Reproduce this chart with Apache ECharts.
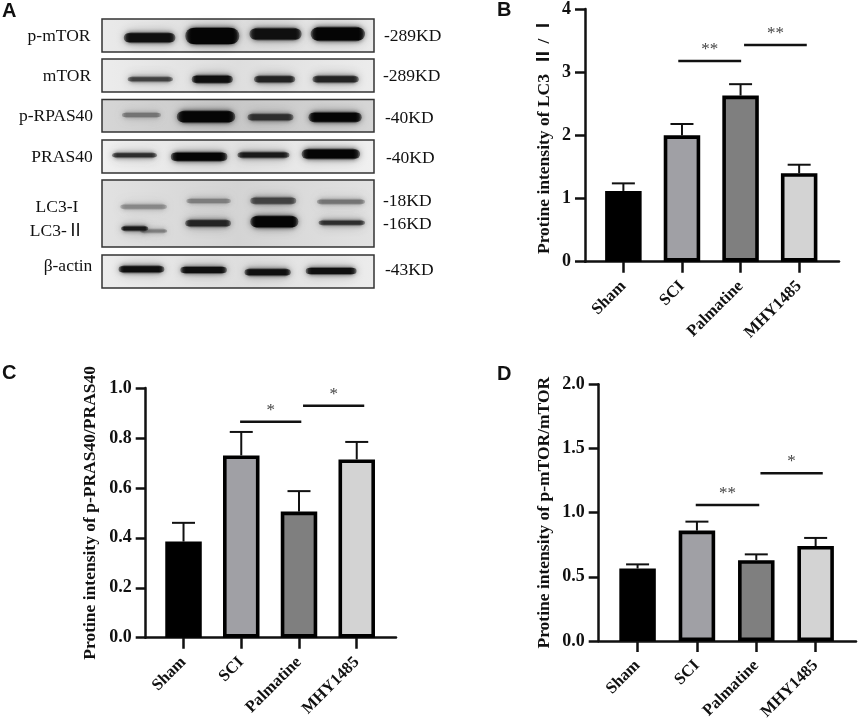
<!DOCTYPE html>
<html>
<head>
<meta charset="UTF-8">
<title></title>
<style>
html, body { margin: 0; padding: 0; background: #fff; }
#main { width: 858px; height: 725px; }
</style>
</head>
<body>
<div id="main"></div>
<script src="https://cdn.jsdelivr.net/npm/echarts@6/dist/echarts.min.js"></script>
<script>
var categories = ['Sham', 'SCI', 'Palmatine', 'MHY1485'];
var barColors = ['#000000', '#a0a0a5', '#7f7f7f', '#d3d3d3'];

// panel B
var bValues = [1.12, 2.0, 2.63, 1.4];
var bErrTop = [1.24, 2.18, 2.81, 1.535];
var bBrackets = [[1.937, 3.01, 3.176], [3.06, 4.13, 3.43]];
var bStars = ['**', '**'];
var bTicks = [0, 4, 1];

// panel C
var cValues = [0.385, 0.73, 0.505, 0.714];
var cErrTop = [0.46, 0.824, 0.587, 0.784];
var cBrackets = [[1.98, 3.04, 0.865], [3.07, 4.13, 0.929]];
var cStars = ['*', '*'];
var cTicks = [0, 1, 0.2];

// panel D
var dValues = [0.565, 0.86, 0.63, 0.74];
var dErrTop = [0.597, 0.93, 0.675, 0.803];
var dBrackets = [[1.98, 3.05, 1.06], [3.07, 4.12, 1.306]];
var dStars = ['**', '*'];
var dTicks = [0, 2, 0.5];

// panel A, blot strips: top, bottom on the membrane axis
var stripTop = [0, 40, 80.5, 121, 161, 236];
var stripBottom = [33, 73, 113, 154, 228, 269];
var stripGray = [220, 222, 200, 226, 212, 222];
// bands: left, right, y, thickness, darkness
var pMtorBands = [[8, 27, 18.7, 9, 0.95], [30.6, 50.5, 17, 16, 1], [54.2, 73.4, 15, 11, 0.95], [76.7, 96.7, 15, 13, 1]];
var mTorBands = [[9.4, 26.1, 60.3, 4, 0.7], [33, 48.1, 60.3, 7, 0.95], [55.9, 71, 60.3, 6, 0.85], [77.4, 94.4, 60.3, 6, 0.85]];
var pRasBands = [[7.3, 21.7, 96, 4, 0.45], [27.5, 49, 97.7, 11, 1], [53.5, 70.4, 98.3, 6, 0.8], [75.9, 95.5, 98.3, 9, 1]];
var prasBands = [[3.7, 20.2, 136.3, 4, 0.8], [25.3, 46.1, 137.7, 8, 1], [49.8, 68.9, 136, 5, 0.9], [73.4, 94.9, 135, 9, 1]];
var lc3UpperBands = [[6.7, 23.9, 187.7, 4, 0.35], [31, 47.4, 182, 4, 0.4], [54.5, 71.4, 181.7, 6, 0.7], [79, 96.7, 182.7, 4, 0.45]];
var lc3LowerBands = [[14, 24, 212, 3, 0.4], [7, 17, 209.5, 4, 0.9], [30.6, 47.4, 204.3, 6, 0.85], [54.5, 72.2, 202.7, 11, 1], [79.6, 96.7, 203.7, 4, 0.8]];
var actinBands = [[6.1, 22.9, 250.3, 6, 0.95], [28.8, 45.9, 251, 6, 0.95], [52.4, 69.4, 253.3, 6, 0.95], [74.9, 93.6, 252, 6, 0.95]];

var blotLabels = ['p-mTOR', 'mTOR', 'p-RPAS40', 'PRAS40', 'LC3-I', 'LC3-Ⅱ', 'β-actin'];
var sizeLabels = ['-289KD', '-289KD', '-40KD', '-40KD', '-18KD', '-16KD', '-43KD'];

var SERIF = '"Liberation Serif", "Noto Sans CJK SC", serif';

var panels = [
	{ left: 585, top: 9, width: 254, height: 252.7, values: bValues, err: bErrTop, brackets: bBrackets, stars: bStars, ticks: bTicks,
		digits: 0, title: 'Protine intensity of LC3  Ⅱ / Ⅰ', nameGap: 32 },
	{ left: 145.7, top: 388, width: 250.3, height: 249.7, values: cValues, err: cErrTop, brackets: cBrackets, stars: cStars, ticks: cTicks,
		digits: 1, title: 'Protine intensity of p-PRAS40/PRAS40', nameGap: 46 },
	{ left: 598.7, top: 384.3, width: 257.3, height: 256.7, values: dValues, err: dErrTop, brackets: dBrackets, stars: dStars, ticks: dTicks,
		digits: 1, title: 'Protine intensity of p-mTOR/mTOR', nameGap: 45 }
];

var grids = [], xAxes = [], yAxes = [], series = [];

function errorItem(params, api) {
	var top = api.coord([api.value(0), api.value(2)]);
	var low = api.coord([api.value(0), api.value(1)]);
	var st = { stroke: '#111', lineWidth: 2 };
	return {
		type: 'group',
		children: [
			{ type: 'line', shape: { x1: low[0], y1: low[1], x2: top[0], y2: top[1] }, style: st },
			{ type: 'line', shape: { x1: top[0] - 11.5, y1: top[1], x2: top[0] + 11.5, y2: top[1] }, style: st }
		]
	};
}

panels.forEach(function(p, i) {
	grids.push({ left: p.left, top: p.top, width: p.width, height: p.height });
	xAxes.push({
		type: 'value', gridIndex: i, min: 0.345, max: 4.68,
		splitLine: { show: false },
		axisLine: { onZero: false, lineStyle: { color: '#111', width: 2.5 } },
		axisTick: { customValues: [1, 2, 3, 4], length: 11, lineStyle: { color: '#111', width: 2.5 } },
		axisLabel: {
			customValues: [1, 2, 3, 4], rotate: 45, margin: 22, color: '#111',
			fontFamily: SERIF, fontWeight: 'bold', fontSize: 16.5,
			formatter: function(v) { return categories[v - 1]; }
		}
	});
	yAxes.push({
		type: 'value', gridIndex: i, min: p.ticks[0], max: p.ticks[1], interval: p.ticks[2],
		name: p.title, nameLocation: 'middle', nameGap: p.nameGap, nameRotate: 90,
		nameTextStyle: { color: '#111', fontFamily: SERIF, fontWeight: 'bold', fontSize: 17.5 },
		splitLine: { show: false },
		axisLine: { show: true, onZero: false, lineStyle: { color: '#111', width: 2.5 } },
		axisTick: { show: true, length: 10, lineStyle: { color: '#111', width: 2.5 } },
		axisLabel: {
			margin: 14, color: '#111', fontFamily: SERIF, fontWeight: 'bold', fontSize: 18,
			formatter: function(v) { return v.toFixed(p.digits); }
		}
	});
	series.push({
		type: 'custom', xAxisIndex: i, yAxisIndex: i, silent: true, z: 1,
		encode: { x: 0, y: [1, 2] },
		renderItem: errorItem,
		data: p.values.map(function(v, k) { return [k + 1, v, p.err[k]]; })
	});
	series.push({
		type: 'bar', xAxisIndex: i, yAxisIndex: i, barWidth: 36.5, silent: true, z: 3,
		data: p.values.map(function(v, k) {
			return { value: [k + 1, v], itemStyle: { color: barColors[k], borderColor: '#000', borderWidth: 3.6 } };
		})
	});
	series.push({
		type: 'custom', xAxisIndex: i, yAxisIndex: i, silent: true, z: 4,
		encode: { x: [0, 1], y: 2 },
		renderItem: function(params, api) {
			var a = api.coord([api.value(0), api.value(2)]);
			var b = api.coord([api.value(1), api.value(2)]);
			return {
				type: 'group',
				children: [
					{ type: 'line', shape: { x1: a[0], y1: a[1], x2: b[0], y2: b[1] }, style: { stroke: '#111', lineWidth: 2.5 } },
					{ type: 'text', style: {
						text: p.stars[params.dataIndex], x: (a[0] + b[0]) / 2, y: a[1] - 3,
						align: 'center', verticalAlign: 'bottom', fill: '#444',
						font: '17px ' + SERIF
					} }
				]
			};
		},
		data: p.brackets
	});
});

// panel A, the blot strips on a hidden membrane axis
var blotIndex = panels.length;
grids.push({ left: 102, top: 19, width: 272, height: 269 });
xAxes.push({ type: 'value', gridIndex: blotIndex, min: 0, max: 100, show: false });
yAxes.push({ type: 'value', gridIndex: blotIndex, min: 0, max: 269, inverse: true, show: false });

series.push({
	type: 'custom', xAxisIndex: blotIndex, yAxisIndex: blotIndex, silent: true, z: 1,
	encode: { y: [0, 1] },
	renderItem: function(params, api) {
		var a = api.coord([0, api.value(0)]);
		var b = api.coord([100, api.value(1)]);
		var g = api.value(2);
		var mid = 'rgb(' + g + ',' + g + ',' + g + ')';
		var edge = 'rgb(' + (g + 14) + ',' + (g + 14) + ',' + (g + 14) + ')';
		return {
			type: 'rect',
			shape: { x: a[0], y: a[1], width: b[0] - a[0], height: b[1] - a[1] },
			style: {
				fill: { type: 'linear', x: 0, y: 0, x2: 1, y2: 0, colorStops: [
					{ offset: 0, color: edge }, { offset: 0.5, color: mid }, { offset: 1, color: edge }
				] },
				stroke: '#333', lineWidth: 1.5
			}
		};
	},
	data: stripTop.map(function(t, k) { return [t, stripBottom[k], stripGray[k]]; })
});

series.push({
	type: 'custom', xAxisIndex: blotIndex, yAxisIndex: blotIndex, silent: true, z: 2,
	encode: { x: [0, 1], y: 2 },
	renderItem: function(params, api) {
		var a = api.coord([api.value(0), api.value(2)]);
		var b = api.coord([api.value(1), api.value(2)]);
		var h = api.value(3);
		var g = Math.round(205 - 200 * api.value(4));
		var rgb = g + ',' + g + ',' + g;
		var w = b[0] - a[0];
		return {
			type: 'group',
			children: [
				// soft halo round the band
				{ type: 'rect',
					shape: { x: a[0] + 2, y: a[1] - h / 2 - 1, width: w - 4, height: h + 2, r: h / 2 + 1 },
					style: { fill: 'rgba(' + rgb + ',0.35)', shadowBlur: 12, shadowColor: 'rgba(' + rgb + ',0.9)' } },
				{ type: 'rect',
					shape: { x: a[0], y: a[1] - h / 2, width: w, height: h, r: h / 2 },
					style: {
						fill: { type: 'linear', x: 0, y: 0, x2: 1, y2: 0, colorStops: [
							{ offset: 0, color: 'rgba(' + rgb + ',0.45)' }, { offset: 0.12, color: 'rgb(' + rgb + ')' },
							{ offset: 0.88, color: 'rgb(' + rgb + ')' }, { offset: 1, color: 'rgba(' + rgb + ',0.45)' }
						] },
						shadowBlur: 5, shadowColor: 'rgba(' + rgb + ',0.8)'
					} }
			]
		};
	},
	data: [].concat(pMtorBands, mTorBands, pRasBands, prasBands, lc3UpperBands, lc3LowerBands, actinBands)
});

// text that sits round the figure
var graphics = [];
function addText(text, x, y, align, font) {
	graphics.push({
		type: 'text', silent: true, x: x, y: y,
		style: { text: text, align: align, verticalAlign: 'middle', fill: '#111', font: font }
	});
}
addText('A', 2, 11, 'left', 'bold 20px "Liberation Sans"');
addText('B', 497, 10, 'left', 'bold 20px "Liberation Sans"');
addText('C', 2, 373, 'left', 'bold 20px "Liberation Sans"');
addText('D', 497, 374, 'left', 'bold 20px "Liberation Sans"');

var blotLabelX = [59, 67, 56, 62, 57, 57, 68];
var blotLabelY = [36, 76, 116, 157, 207, 231, 266];
blotLabels.forEach(function(t, k) { addText(t, blotLabelX[k], blotLabelY[k], 'center', '17.5px ' + SERIF); });
var sizeLabelX = [384, 383, 385, 386, 383, 383, 385];
var sizeLabelY = [36, 76, 118, 158, 201, 224, 270];
sizeLabels.forEach(function(t, k) { addText(t, sizeLabelX[k], sizeLabelY[k], 'left', '17.5px ' + SERIF); });

var chart = echarts.init(document.getElementById('main'));
chart.setOption({
	animation: false,
	backgroundColor: '#fff',
	grid: grids,
	xAxis: xAxes,
	yAxis: yAxes,
	series: series,
	graphic: graphics
});
</script>
</body>
</html>
